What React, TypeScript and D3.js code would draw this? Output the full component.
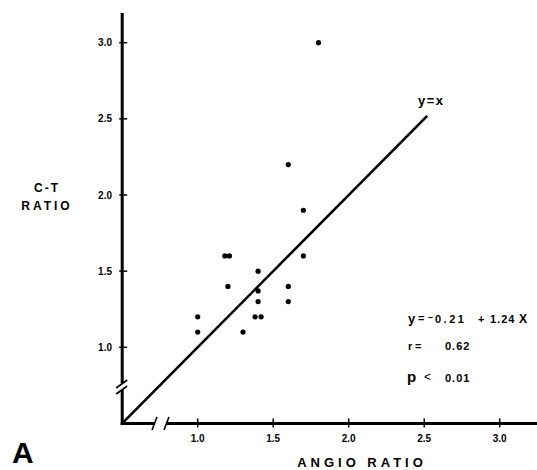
import React from 'react'
import {scaleLinear} from 'd3'

// angio ratio vs C-T ratio
const angioRatio = [1.0, 1.0, 1.18, 1.21, 1.2, 1.3, 1.4, 1.4, 1.4, 1.38, 1.42, 1.6, 1.6, 1.6, 1.7, 1.7, 1.8]
const ctRatio = [1.2, 1.1, 1.6, 1.6, 1.4, 1.1, 1.5, 1.37, 1.3, 1.2, 1.2, 1.4, 1.3, 2.2, 1.6, 1.9, 3.0]

const xTicks = [1.0, 1.5, 2.0, 2.5, 3.0]
const yTicks = [1.0, 1.5, 2.0, 2.5, 3.0]
const xTickLabels = ['1.0', '1.5', '2.0', '2.5', '3.0']
const yTickLabels = ['1.0', '1.5', '2.0', '2.5', '3.0']

const identityLine = [0.5, 2.52]

const W = 537
const H = 470

export default function App() {
    const x = scaleLinear().domain([1, 3]).range([197.7, 499.7])
    const y = scaleLinear().domain([1, 3]).range([347.3, 42.7])

    const x0 = x(0.5)
    const y0 = y(0.5)
    const font = '"Liberation Sans", Arial, sans-serif'

    const points = angioRatio.map((a, i) => ({a, c: ctRatio[i]}))

    return (
        <div style={{position: 'absolute', left: 0, top: 0}}>
            <svg width={W} height={H} style={{display: 'block', background: '#fff'}} fontFamily={font}>
                {/* y axis, broken near the origin */}
                <line x1={x0} x2={x0} y1={13} y2={383} stroke="#000" strokeWidth={3} />
                <line x1={x0} x2={x0} y1={390} y2={y0 + 1.5} stroke="#000" strokeWidth={3} />
                <line x1={x0 - 6} x2={x0 + 5} y1={388} y2={380} stroke="#000" strokeWidth={1.6} />
                <line x1={x0 - 6} x2={x0 + 5} y1={394} y2={386} stroke="#000" strokeWidth={1.6} />

                {/* x axis, broken near the origin */}
                <line x1={x0 - 1.5} x2={155} y1={y0} y2={y0} stroke="#000" strokeWidth={3} />
                <line x1={167} x2={W} y1={y0} y2={y0} stroke="#000" strokeWidth={3} />
                <line x1={152} x2={157} y1={430} y2={417} stroke="#000" strokeWidth={1.6} />
                <line x1={164} x2={169} y1={430} y2={417} stroke="#000" strokeWidth={1.6} />

                {yTicks.map((t, i) => (
                    <g key={'y' + t}>
                        <line x1={x0 - 3} x2={x0 + 5} y1={y(t)} y2={y(t)} stroke="#000" strokeWidth={1.5} />
                        <text x={112} y={y(t) + 3.5} textAnchor="end" fontSize={10} fontWeight="bold">{yTickLabels[i]}</text>
                    </g>
                ))}
                {xTicks.map((t, i) => (
                    <g key={'x' + t}>
                        <line x1={x(t)} x2={x(t)} y1={y0 - 5} y2={y0 + 4} stroke="#000" strokeWidth={1.5} />
                        <text x={x(t)} y={442} textAnchor="middle" fontSize={10} fontWeight="bold">{xTickLabels[i]}</text>
                    </g>
                ))}

                {/* y = x */}
                <line
                    x1={x(identityLine[0])} y1={y(identityLine[0])}
                    x2={x(identityLine[1])} y2={y(identityLine[1])}
                    stroke="#000" strokeWidth={2.6}
                />
                <text x={418} y={105} fontSize={13} fontWeight="bold" letterSpacing={1.5}>y=x</text>

                {points.map((p, i) => (
                    <circle key={i} cx={x(p.a)} cy={y(p.c)} r={2.6} fill="#000" />
                ))}

                <text x={47} y={192} textAnchor="middle" fontSize={12} fontWeight="bold" letterSpacing={2}>C-T</text>
                <text x={47} y={210} textAnchor="middle" fontSize={12} fontWeight="bold" letterSpacing={3}>RATIO</text>

                <text x={362} y={467} textAnchor="middle" fontSize={13} fontWeight="bold" letterSpacing={4}>ANGIO  RATIO</text>

                {/* regression stats */}
                <g fontWeight="bold" fontSize={11}>
                    <text x={408} y={323} fontSize={13}>y</text>
                    <text x={418} y={322}>=</text>
                    <text x={428} y={320} fontSize={9}>{'\u2013'}</text>
                    <text x={435} y={323} letterSpacing={2.5}>0.21</text>
                    <text x={478} y={323}>+</text>
                    <text x={490} y={323} letterSpacing={1}>1.24</text>
                    <text x={519} y={323} fontSize={12}>X</text>

                    <text x={408} y={350}>r</text>
                    <text x={415} y={350}>=</text>
                    <text x={445} y={350} letterSpacing={1}>0.62</text>

                    <text x={407} y={382} fontSize={15}>p</text>
                    <text x={424} y={381} fontWeight="normal" fontSize={12}>{'<'}</text>
                    <text x={445} y={382} letterSpacing={1}>0.01</text>
                </g>

                <text x={12} y={463} fontSize={30} fontWeight="bold">A</text>
            </svg>
        </div>
    )
}
